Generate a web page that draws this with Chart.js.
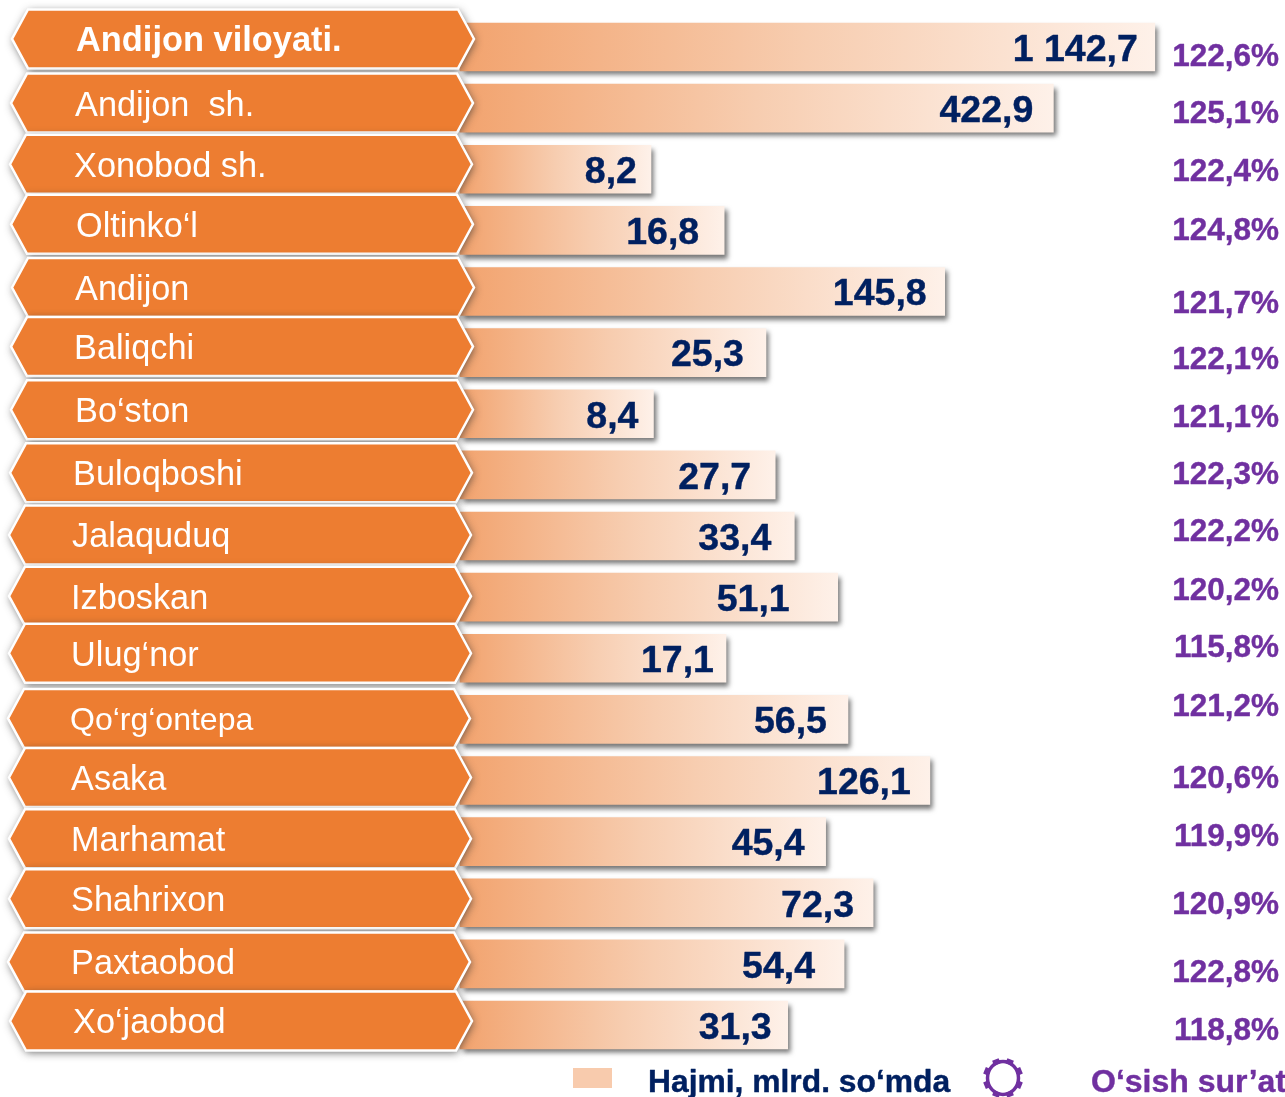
<!DOCTYPE html>
<html><head><meta charset="utf-8">
<style>html,body{margin:0;padding:0;background:#fff;overflow:hidden}canvas{display:block}</style>
<script src="https://cdn.jsdelivr.net/npm/chart.js@4"></script>
</head><body>
<canvas id="c" width="1285" height="1097" style="width:1285px;height:1097px"></canvas>
<script>
const categories = ["Andijon viloyati.","Andijon  sh.","Xonobod sh.","Oltinko‘l","Andijon","Baliqchi","Bo‘ston","Buloqboshi","Jalaquduq","Izboskan","Ulug‘nor","Qo‘rg‘ontepa","Asaka","Marhamat","Shahrixon","Paxtaobod","Xo‘jaobod"];
const volume = [1142.7,422.9,8.2,16.8,145.8,25.3,8.4,27.7,33.4,51.1,17.1,56.5,126.1,45.4,72.3,54.4,31.3];
const growth = [122.6,125.1,122.4,124.8,121.7,122.1,121.1,122.3,122.2,120.2,115.8,121.2,120.6,119.9,120.9,122.8,118.8];
const volumeLabel = "Hajmi, mlrd. so‘mda";
const growthLabel = "O‘sish sur’at";

// small hand-layout nudges (px) of the reference's slightly uneven rows
const hexNudgeY = [-8,-5,-5,-6,-4,-6,-4,-2,-1,-1,-5,-1,-3,-3,-4,-2,-4];
const hexNudgeX = [0,-1,-2,-1,0,-1,-1,-2,-3,-3,-3,-4,-3,-3,-3,-4,-2];
const textNudgeX = [16,15,14,16,15,14,15,13,12,11,11,10,11,11,11,11,13];
const growthNudgeY = [8,4,1,-2,10,5,2,-2,-6,-8,-12,-15,-4,-7,0,7,4];
const valueNudgeX = [-17,-20,-14,-25,-18,-22,-15,-24,-23,-48,-12,-21,-19,-21,-19,-29,-16];

const comma = (v, d=1) => {
  const s = v.toFixed(d).replace('.', ',');
  const [a,b] = s.split(',');
  return a.replace(/\B(?=(\d{3})+$)/g,' ') + ',' + b;
};

const NAVY='#002060', PURPLE='#7030A0', ORANGE='#ED7D31';
const FF='"Liberation Sans", Arial, sans-serif';
Chart.defaults.font.family=FF;

const heavyText=(c,txt,x,y,w)=>{c.lineWidth=w;c.lineJoin='round';c.strokeText(txt,x,y);c.fillText(txt,x,y);};

const artPlugin = {
  id:'art',
  beforeDatasetDraw(chart,args){
    if(args.index!==0) return;
    const c=chart.ctx; c.save();
    c.shadowColor='rgba(70,70,70,.75)'; c.shadowBlur=5; c.shadowOffsetX=3; c.shadowOffsetY=4;
  },
  afterDatasetDraw(chart,args){
    if(args.index===0) chart.ctx.restore();
  },
  afterDatasetsDraw(chart){
    const c=chart.ctx, bars=chart.getDatasetMeta(0).data, pts=chart.getDatasetMeta(1).data;
    // value labels
    c.save();
    c.fillStyle=NAVY; c.strokeStyle=NAVY; c.font='bold 37.5px '+FF; c.textAlign='right'; c.textBaseline='middle';
    bars.forEach((b,i)=>heavyText(c,comma(volume[i]), b.x+valueNudgeX[i], b.y+3.5,.4));
    // growth labels
    c.fillStyle=PURPLE; c.strokeStyle=PURPLE; c.font='bold 31.5px '+FF;
    pts.forEach((p,i)=>heavyText(c,comma(growth[i])+'%', 1279, p.y+growthNudgeY[i]+2.5,.4));
    c.restore();
    // hexagon category plates
    bars.forEach((b,i)=>{
      const cy=b.y+hexNudgeY[i], dx=hexNudgeX[i], h=29.5;
      const L=12+dx, R=474+dx;
      const path=()=>{
        c.beginPath();
        c.moveTo(L,cy); c.lineTo(L+16,cy-h); c.lineTo(R-16,cy-h);
        c.lineTo(R,cy); c.lineTo(R-16,cy+h); c.lineTo(L+16,cy+h); c.closePath();
      };
      c.save();
      c.shadowColor='rgba(40,40,40,.7)'; c.shadowBlur=8; c.shadowOffsetX=1; c.shadowOffsetY=2;
      path(); c.fillStyle=ORANGE; c.fill();
      c.restore();
      c.save(); path(); c.strokeStyle='#fff'; c.lineWidth=2.5; c.lineJoin='miter'; c.stroke(); c.restore();
    });
  },
  afterDraw(chart){
    const c=chart.ctx;
    c.save();
    // legend
    c.fillStyle='#F8CBAD'; c.fillRect(573,1068,39,20);
    c.textBaseline='alphabetic'; c.textAlign='left';
    c.fillStyle=NAVY; c.strokeStyle=NAVY; c.font='bold 31.8px '+FF; heavyText(c,volumeLabel,648,1092,.4);
    c.fillStyle=PURPLE; c.strokeStyle=PURPLE; c.font='bold 32px '+FF; heavyText(c,growthLabel,1091,1092,.4);
    // gear marker
    const gx=1003, gy=1078;
    c.strokeStyle=PURPLE; c.lineWidth=3.5;
    c.beginPath(); c.ellipse(gx,gy,15.5,16.5,0,0,Math.PI*2); c.stroke();
    c.fillStyle=PURPLE;
    for(let k=0;k<8;k++){
      c.save(); c.translate(gx,gy); c.rotate(k*Math.PI/4+Math.PI/8);
      c.fillRect(14.5,-3.5,5.5,7); c.restore();
    }
    c.restore();
  }
};

new Chart(document.getElementById('c'),{
  data:{
    labels:categories,
    datasets:[
      {type:'bar',label:volumeLabel,data:volume,xAxisID:'x',yAxisID:'y',barThickness:48,clip:false,order:1,
       backgroundColor(ctx){
         const chart=ctx.chart, area=chart.chartArea;
         if(!area||ctx.parsed===undefined||ctx.parsed.x===undefined) return '#F8CBAD';
         const end=chart.scales.x.getPixelForValue(ctx.parsed.x);
         const g=chart.ctx.createLinearGradient(area.left,0,end,0);
         g.addColorStop(0,'#F2A36E'); g.addColorStop(.5,'#F7CDB0'); g.addColorStop(1,'#FEF1E9');
         return g;
       }},
      {type:'line',label:growthLabel,data:growth,xAxisID:'xg',yAxisID:'y',showLine:false,pointRadius:0,order:2,
       borderColor:PURPLE,backgroundColor:PURPLE}
    ]
  },
  options:{
    indexAxis:'y',responsive:false,animation:false,
    layout:{padding:{left:60,right:0,top:16.4,bottom:41.4}},
    plugins:{legend:{display:false},tooltip:{enabled:false}},
    scales:{
      x:{type:'logarithmic',min:1.262,max:4093,display:false,grid:{display:false}},
      xg:{type:'linear',min:0,max:200,display:false,grid:{display:false}},
      y:{type:'category',offset:true,position:'left',
        grid:{display:false},border:{display:false},
        afterFit(s){s.width=400;s.paddingTop=0;s.paddingBottom=0;},
        afterBuildTicks(s){
          const proto=Object.getPrototypeOf(s);
          s._computeLabelItems=function(area){
            const items=proto._computeLabelItems.call(this,area);
            items.forEach((it,i)=>{
              it.options.translation[0]+=textNudgeX[i];
              it.options.translation[1]+=hexNudgeY[i]+3;
            });
            return items;
          };
        },
        ticks:{
          autoSkip:false,crossAlign:'far',padding:0,z:1,color:'#fff',
          font(ctx){
            const i=ctx.index;
            if(i===0) return {family:FF,size:34.4,weight:'bold'};
            if(categories[i]==='Qo‘rg‘ontepa') return {family:FF,size:32};
            return {family:FF,size:34.3};
          }
        }
      }
    }
  },
  plugins:[artPlugin]
});
</script>
</body></html>
